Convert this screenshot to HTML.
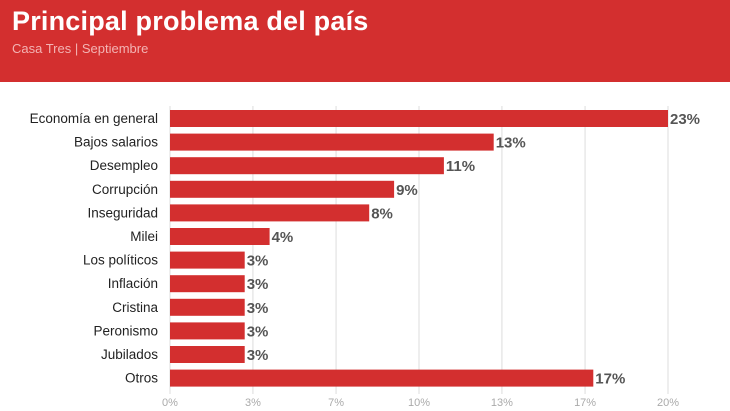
<!DOCTYPE html>
<html><head><meta charset="utf-8"><style>
body{margin:0;width:730px;height:411px;overflow:hidden;background:#fff;font-family:"Liberation Sans",sans-serif}
#hdr{position:absolute;left:0;top:0;width:730px;height:82px;background:#d32f2f}
#title{position:absolute;left:12px;top:6px;color:#fff;font-size:27px;font-weight:bold;letter-spacing:0.2px}
#sub{position:absolute;left:12px;top:41px;color:#f3b3b3;font-size:13px}
</style></head><body>
<div id="hdr">
<div id="title">Principal problema del país</div>
<div id="sub">Casa Tres | Septiembre</div>
</div>
<svg id="chart" width="730" height="411" style="position:absolute;left:0;top:0"></svg>
<script>
const categories=["Economía en general","Bajos salarios","Desempleo","Corrupción","Inseguridad","Milei","Los políticos","Inflación","Cristina","Peronismo","Jubilados","Otros"];
const values=[23,13,11,9,8,4,3,3,3,3,3,17];
const ticks=[0,3.33,6.67,10,13.33,16.67,20];
const tickLabels=["0%","3%","7%","10%","13%","17%","20%"];
const xMax=20;
const svg=document.getElementById('chart');
const NS="http://www.w3.org/2000/svg";
const x0=170,x1=668,yTop=110,pitch=23.6,bh=17;
const xs=v=>x0+(Math.min(v,xMax)/xMax)*(x1-x0);
const ys=i=>yTop+i*pitch;
function mk(t,a){const e=document.createElementNS(NS,t);for(const k in a)e.setAttribute(k,a[k]);svg.appendChild(e);return e;}
ticks.forEach((t,i)=>{
 const g=mk('line',{x1:xs(t),x2:xs(t),y1:106,y2:394,stroke:'#ddd','stroke-width':1});
 
 
 const l=mk('text',{x:xs(t),y:406,'text-anchor':'middle','font-size':11,fill:'#aaa'});
 l.textContent=tickLabels[i];
 
 
});
categories.forEach((c,i)=>{
 const y=ys(i);
 const lab=mk('text',{x:158,y:y+13,'text-anchor':'end','font-size':13.5,fill:'#222'});
 lab.textContent=c;
 
 
 const b=mk('rect',{x:x0,y:y,width:xs(values[i])-x0,height:bh,fill:'#d32f2f'});
 
 
 const v=mk('text',{x:xs(values[i])+2,y:y+14,'font-size':15,'font-weight':'bold',fill:'#555'});
 v.textContent=values[i]+'%';
 
 
});
</script>
</body></html>
